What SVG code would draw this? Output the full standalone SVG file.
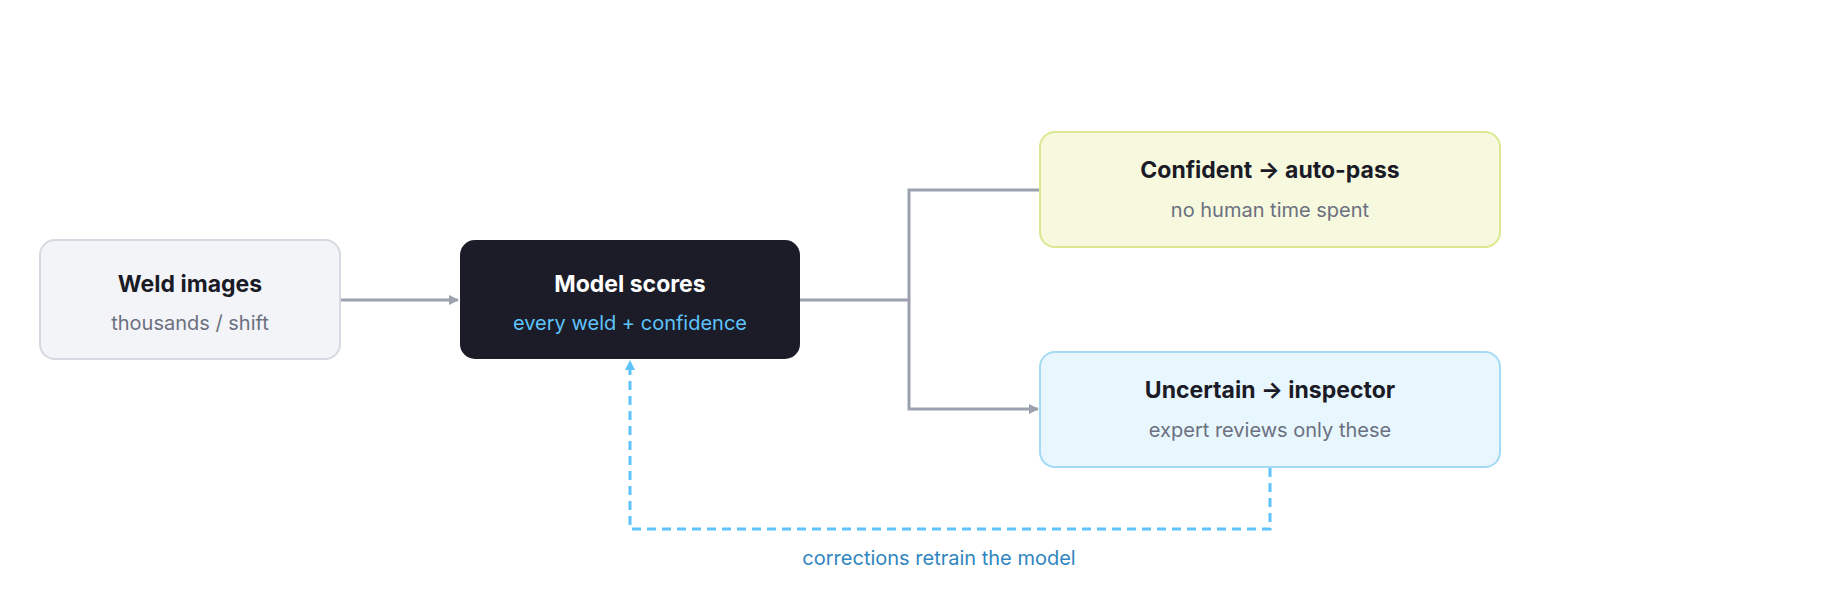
<svg xmlns="http://www.w3.org/2000/svg" width="1840" height="600" viewBox="0 0 1840 600">
<style>
.t{font-family:Inter,"Liberation Sans",sans-serif;font-size:23px;font-weight:700;text-anchor:middle;fill:#1a1b26}
.s{font-family:Inter,"Liberation Sans",sans-serif;font-size:20px;text-anchor:middle;fill:#6b7080}
.c{fill:none;stroke:#9ca1ae;stroke-width:3}
.d{fill:none;stroke:#5ec4fb;stroke-width:3;stroke-dasharray:9 6}
</style>
<defs>
<marker id="ag" markerWidth="10" markerHeight="10" refX="9" refY="5" orient="auto" markerUnits="userSpaceOnUse" viewBox="0 0 10 10"><path d="M0,0L10,5L0,10z" fill="#9ca1ae"/></marker>
<marker id="ab" markerWidth="10" markerHeight="10" refX="9" refY="5" orient="auto" viewBox="0 0 10 10" markerUnits="userSpaceOnUse"><path d="M0,0L10,5L0,10z" fill="#5ec4fb"/></marker>
</defs>
<rect width="1840" height="600" fill="#fff"/>
<g id="connectors">
<path class="c" d="M340,300H458" marker-end="url(#ag)" style="marker-end:url(#ag)"/>
<path class="c" d="M800,300H909V190H1040"/>
<path class="c" d="M909,300V409H1038" marker-end="url(#ag)"/>
<path class="d" d="M1270,468V529H630V361" marker-end="url(#ab)"/>
<text x="939" y="565" font-family="Inter,'Liberation Sans',sans-serif" font-size="20" fill="#2f86c0" text-anchor="middle">corrections retrain the model</text>
</g>
<g id="weld"><rect x="40" y="240" width="300" height="119" rx="15" fill="#f3f4f8" stroke="#d6d8e2" stroke-width="2"/>
<text class="t" x="190" y="292">Weld images</text><text class="s" x="190" y="330">thousands / shift</text></g>
<g id="model"><rect x="460" y="240" width="340" height="119" rx="15" fill="#1b1c28"/>
<text class="t" x="630" y="292" fill="#fff" style="fill:#fff">Model scores</text><text class="s" x="630" y="330" style="fill:#5ec4fb">every weld + confidence</text></g>
<g id="confident"><rect x="1040" y="132" width="460" height="115" rx="15" fill="#f6f9de" stroke="#dce78f" stroke-width="2"/>
<text class="t" x="1270" y="178">Confident → auto-pass</text><text class="s" x="1270" y="217">no human time spent</text></g>
<g id="uncertain"><rect x="1040" y="352" width="460" height="115" rx="15" fill="#e8f6fe" stroke="#a4daf5" stroke-width="2"/>
<text class="t" x="1270" y="398">Uncertain → inspector</text><text class="s" x="1270" y="437">expert reviews only these</text></g>
</svg>
